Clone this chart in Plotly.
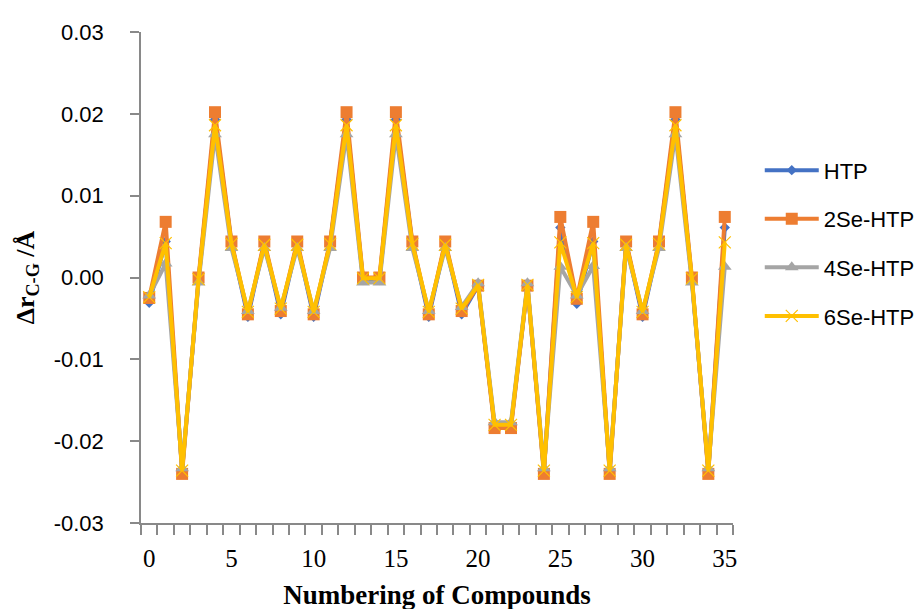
import plotly.graph_objects as go

compounds = list(range(36))

htp = [-0.0031, 0.0044, -0.0236, -0.0003, 0.0193, 0.0042, -0.0048, 0.0042, -0.0045, 0.0042,
       -0.0048, 0.0042, 0.0193, -0.0003, -0.0003, 0.0193, 0.0042, -0.0048, 0.0042, -0.0045,
       -0.0010, -0.0181, -0.0181, -0.0010, -0.0237, 0.0061, -0.0032, 0.0044, -0.0237, 0.0042,
       -0.0048, 0.0042, 0.0193, -0.0003, -0.0237, 0.0061]

se2_htp = [-0.0025, 0.0068, -0.0240, 0.0000, 0.0202, 0.0044, -0.0045, 0.0044, -0.0041, 0.0044,
           -0.0045, 0.0044, 0.0202, 0.0000, 0.0000, 0.0202, 0.0044, -0.0045, 0.0044, -0.0041,
           -0.0010, -0.0184, -0.0184, -0.0010, -0.0240, 0.0074, -0.0026, 0.0068, -0.0240, 0.0044,
           -0.0045, 0.0044, 0.0202, 0.0000, -0.0240, 0.0074]

se4_htp = [-0.0022, 0.0017, -0.0233, -0.0006, 0.0175, 0.0036, -0.0041, 0.0036, -0.0037, 0.0036,
           -0.0041, 0.0036, 0.0175, -0.0006, -0.0006, 0.0175, 0.0036, -0.0041, 0.0036, -0.0036,
           -0.0007, -0.0177, -0.0177, -0.0007, -0.0233, 0.0013, -0.0022, 0.0014, -0.0233, 0.0036,
           -0.0041, 0.0036, 0.0175, -0.0006, -0.0233, 0.0013]

se6_htp = [-0.0024, 0.0042, -0.0236, -0.0002, 0.0186, 0.0041, -0.0042, 0.0040, -0.0038, 0.0040,
           -0.0042, 0.0041, 0.0186, -0.0001, -0.0001, 0.0186, 0.0041, -0.0042, 0.0040, -0.0038,
           -0.0009, -0.0180, -0.0180, -0.0009, -0.0236, 0.0043, -0.0024, 0.0042, -0.0236, 0.0040,
           -0.0042, 0.0041, 0.0186, -0.0001, -0.0236, 0.0043]

series_names = ["HTP", "2Se-HTP", "4Se-HTP", "6Se-HTP"]
x_tick_vals = [0, 5, 10, 15, 20, 25, 30, 35]
y_tick_vals = [-0.03, -0.02, -0.01, 0.0, 0.01, 0.02, 0.03]
y_tick_text = ["-0.03", "-0.02", "-0.01", "0.00", "0.01", "0.02", "0.03"]

colors = ["#4472C4", "#ED7D31", "#A5A5A5", "#FFC000"]
symbols = ["diamond", "square", "triangle-up", "x-thin-open"]
sizes = [8, 12, 12, 12]

fig = go.Figure()
for i, (name, vals) in enumerate(zip(series_names, [htp, se2_htp, se4_htp, se6_htp])):
    marker = dict(symbol=symbols[i], size=sizes[i], color=colors[i])
    if symbols[i] == "x-thin-open":
        marker["line"] = dict(color=colors[i], width=1.2)
    fig.add_trace(go.Scatter(
        x=compounds, y=vals, name=name, mode="lines+markers",
        line=dict(color=colors[i], width=4),
        marker=marker, legendgroup=name,
    ))

axis_color = "#898989"
fig.update_layout(
    width=924, height=609,
    paper_bgcolor="white", plot_bgcolor="white",
    margin=dict(l=133, r=185, t=20, b=85),
    showlegend=True,
    legend=dict(
        x=1.0452, y=0.761, xanchor="left", yanchor="top",
        font=dict(family="Liberation Sans, Arial, sans-serif", size=22, color="#000000"),
        tracegroupgap=17, itemwidth=54, bgcolor="rgba(0,0,0,0)",
    ),
    xaxis=dict(
        range=[-0.5, 35.5], showgrid=False, zeroline=False,
        showline=True, linecolor=axis_color, linewidth=1.5,
        tickmode="array", tickvals=x_tick_vals, ticks="",
        tickfont=dict(family="Liberation Serif, Times New Roman, serif", size=25, color="#000000"),
        ticklabelstandoff=12,
        minor=dict(tick0=-0.5, dtick=1, ticks="outside", ticklen=10, tickwidth=1.5, tickcolor=axis_color, showgrid=False),
        title=dict(text="<b>Numbering of Compounds</b>", standoff=14,
                   font=dict(family="Liberation Serif, Times New Roman, serif", size=27, color="#000000")),
    ),
    yaxis=dict(
        range=[-0.03, 0.03], showgrid=False, zeroline=False,
        showline=True, linecolor=axis_color, linewidth=1.5,
        tickmode="array", tickvals=y_tick_vals, ticktext=y_tick_text,
        ticks="outside", ticklen=9, tickwidth=1.5, tickcolor=axis_color,
        tickfont=dict(family="Liberation Sans, Arial, sans-serif", size=22, color="#000000"),
        ticklabelstandoff=22,
        title=dict(text="<b>\u0394r<sub>C-G</sub> /\u00c5</b>", standoff=12,
                   font=dict(family="Liberation Serif, Times New Roman, serif", size=26, color="#000000")),
    ),
)

fig.write_html("out.html")
